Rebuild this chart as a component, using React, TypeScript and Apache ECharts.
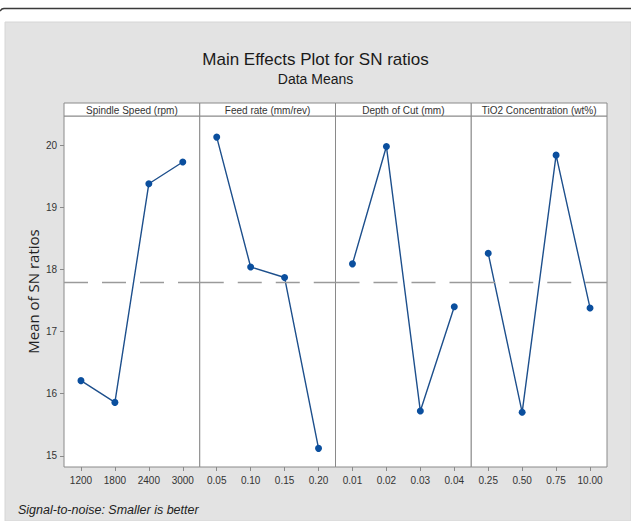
import React, { useEffect, useRef } from "react";
import * as echarts from "echarts";

// Factor names and their level labels
const factors = [
  "Spindle Speed (rpm)",
  "Feed rate (mm/rev)",
  "Depth of Cut (mm)",
  "TiO2 Concentration (wt%)",
];
const spindleLevels = ["1200", "1800", "2400", "3000"];
const feedLevels = ["0.05", "0.10", "0.15", "0.20"];
const depthLevels = ["0.01", "0.02", "0.03", "0.04"];
const tio2Levels = ["0.25", "0.50", "0.75", "10.00"];

// Mean S/N ratio at each level
const spindleSN = [16.21, 15.86, 19.38, 19.73];
const feedSN = [20.13, 18.04, 17.87, 15.12];
const depthSN = [18.09, 19.98, 15.72, 17.4];
const tio2SN = [18.26, 15.7, 19.84, 17.38];

const yTicks = [15, 16, 17, 18, 19, 20];

const levelSets = [spindleLevels, feedLevels, depthLevels, tio2Levels];
const snSets = [spindleSN, feedSN, depthSN, tio2SN];

const FONT = "'Liberation Sans Narrow', 'Liberation Sans', 'DejaVu Sans Condensed', sans-serif";

export default function App() {
  const ref = useRef<HTMLDivElement>(null);

  useEffect(() => {
    if (!ref.current) return;
    const chart = echarts.init(ref.current, null, { renderer: "svg" });

    const all = snSets.flat();
    const grandMean = all.reduce((a, b) => a + b, 0) / all.length;

    const panelLeft = 64;
    const panelW = 135.75;
    const top = 116;
    const height = 351;
    const stripTop = 103;

    const grids = factors.map((_, i) => ({
      left: panelLeft + i * panelW,
      top,
      width: panelW,
      height,
      show: true,
      backgroundColor: "#ffffff",
      borderColor: "#8a8a8a",
      borderWidth: 1,
    }));

    const xAxes = levelSets.map((lv, i) => ({
      type: "category",
      gridIndex: i,
      data: lv,
      boundaryGap: true,
      axisLine: { show: false },
      axisTick: { show: true, alignWithLabel: true, length: 4, lineStyle: { color: "#8a8a8a" } },
      axisLabel: { color: "#333", fontSize: 10, fontFamily: FONT, margin: 8 },
      splitLine: { show: false },
    }));

    const yAxes = factors.map((_, i) => ({
      type: "value",
      gridIndex: i,
      min: 14.82,
      max: 20.47,
      name: i === 0 ? "Mean of SN ratios" : "",
      nameLocation: "middle",
      nameGap: 24,
      nameTextStyle: { fontFamily: "'Open Sans', sans-serif", fontSize: 15, color: "#222" },
      axisLine: { show: false },
      splitLine: { show: false },
      axisTick: {
        show: i === 0,
        length: 4,
        customValues: yTicks,
        lineStyle: { color: "#8a8a8a" },
      },
      axisLabel: {
        show: i === 0,
        customValues: yTicks,
        color: "#333",
        fontSize: 10,
        fontFamily: FONT,
        margin: 7,
      },
    }));

    const series = snSets.map((vals, i) => ({
      type: "line",
      xAxisIndex: i,
      yAxisIndex: i,
      data: vals,
      symbol: "circle",
      symbolSize: 7,
      itemStyle: { color: "#0b4f9e" },
      lineStyle: { color: "#1d4f8c", width: 1.4 },
      markLine: {
        silent: true,
        symbol: "none",
        label: { show: false },
        lineStyle: { color: "#9a9a9a", type: [24, 14], width: 1.3 },
        data: [{ yAxis: grandMean }],
      },
    }));

    const strips: any[] = [];
    factors.forEach((f, i) => {
      strips.push({
        type: "rect",
        shape: { x: panelLeft + i * panelW, y: stripTop, width: panelW, height: top - stripTop },
        style: { fill: "#ffffff", stroke: "#8a8a8a", lineWidth: 1 },
        z: 10,
      });
      strips.push({
        type: "text",
        x: panelLeft + i * panelW + panelW / 2,
        y: stripTop + (top - stripTop) / 2 + 0.5,
        style: {
          text: f,
          fill: "#333",
          font: `10px ${FONT}`,
          textAlign: "center",
          textVerticalAlign: "middle",
        },
        z: 11,
      });
    });

    chart.setOption({
      animation: false,
      backgroundColor: "#ffffff",
      title: {
        text: "Main Effects Plot for SN ratios",
        subtext: "Data Means",
        left: "center",
        top: 46,
        itemGap: 4,
        textStyle: { fontFamily: FONT, fontSize: 17, fontWeight: "normal", color: "#1a1a1a" },
        subtextStyle: { fontFamily: FONT, fontSize: 14, color: "#1a1a1a" },
      },
      graphic: [
        {
          type: "rect",
          shape: { x: 5, y: 22, width: 626, height: 499 },
          style: { fill: "#e3e3e3", stroke: "#d6d6d6", lineWidth: 1 },
          z: -10,
        },
        {
          type: "polyline",
          shape: { points: [[0, 11], [2, 9], [4, 8.5], [631, 8.5]] },
          style: { stroke: "#3a3a3a", lineWidth: 1.5, fill: "none" },
          z: -5,
        },
        ...strips,
        {
          type: "text",
          x: 18,
          y: 510,
          style: {
            text: "Signal-to-noise: Smaller is better",
            fill: "#222",
            font: `italic 12.5px ${FONT}`,
            textVerticalAlign: "middle",
          },
        },
      ],
      grid: grids,
      xAxis: xAxes,
      yAxis: yAxes,
      series,
    });

    return () => chart.dispose();
  }, []);

  return (
    <div
      ref={ref}
      style={{ position: "fixed", left: 0, top: 0, width: 631, height: 521 }}
    />
  );
}
